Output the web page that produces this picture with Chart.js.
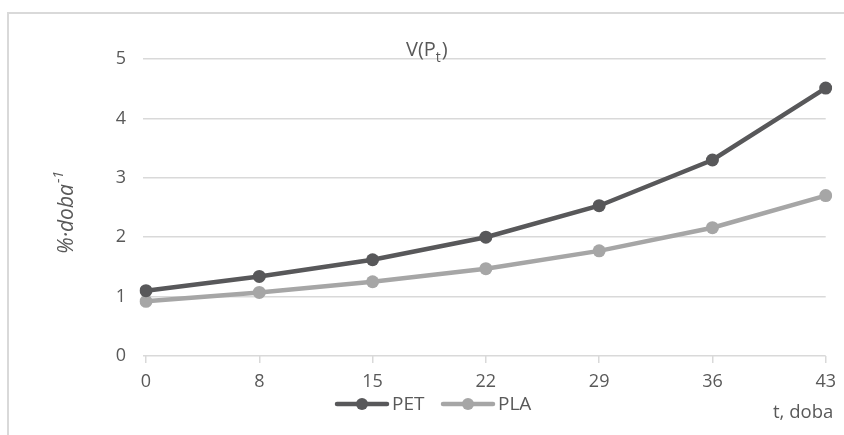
<!DOCTYPE html>
<html>
<head>
<meta charset="utf-8">
<script src="https://cdn.jsdelivr.net/npm/chart.js@4/dist/chart.umd.min.js"></script>
<style>
 body { margin:0; background:#fff; }
 #marco { position:absolute; left:0; top:0; width:844px; height:435px; }
 #borde { position:absolute; left:7px; top:12px; width:850px; height:440px; border:2px solid #d9d9d9; box-sizing:border-box; }
</style>
</head>
<body>
<div id="borde"></div>
<div id="marco"><canvas id="grafico" width="844" height="435"></canvas></div>
<script>
//Datos del grafico
const dias = ["0","8","15","22","29","36","43"];
const valoresPET = [1.10, 1.34, 1.62, 2.00, 2.53, 3.30, 4.51];
const valoresPLA = [0.92, 1.07, 1.25, 1.47, 1.77, 2.16, 2.70];
const nombresSeries = ["PET", "PLA"];
const coloresSeries = ["#58585a", "#a6a6a6"];
const fuente = "'Open Sans', Lato, sans-serif";

//Plugin que dibuja titulo, etiquetas de ejes y leyenda
const textosExtra = {
 id: 'textosExtra',
 afterDraw(chart) {
  const ctx = chart.ctx;
  ctx.save();
  ctx.fillStyle = "#595959";
  ctx.textBaseline = "alphabetic";
  //Titulo V(Pt)
  ctx.font = "20px " + fuente;
  ctx.textAlign = "left";
  let x = 406;
  ctx.fillText("V(P", x, 56);
  x += ctx.measureText("V(P").width;
  ctx.font = "14px " + fuente;
  ctx.fillText("t", x, 62);
  x += ctx.measureText("t").width + 1;
  ctx.font = "20px " + fuente;
  ctx.fillText(")", x, 56);
  //Etiqueta eje y
  ctx.save();
  ctx.translate(73, 213);
  ctx.rotate(-Math.PI / 2);
  const base = "%\u00b7doba";
  ctx.font = "italic 21px " + fuente;
  const w1 = ctx.measureText(base).width;
  ctx.font = "italic 14px " + fuente;
  const w2 = ctx.measureText("-1").width;
  let xi = -(w1 + w2) / 2;
  ctx.font = "italic 21px " + fuente;
  ctx.fillText(base, xi, 0);
  ctx.font = "italic 14px " + fuente;
  ctx.fillText("-1", xi + w1 + 1, -10);
  ctx.restore();
  //Etiqueta eje x
  ctx.font = "18.5px " + fuente;
  ctx.textAlign = "left";
  ctx.fillText("t, doba", 773, 418);
  //Leyenda
  const posiciones = [337, 443];
  for (let i = 0; i < nombresSeries.length; i++) {
   const x0 = posiciones[i];
   ctx.strokeStyle = coloresSeries[i];
   ctx.fillStyle = coloresSeries[i];
   ctx.lineWidth = 4.5;
   ctx.lineCap = "round";
   ctx.beginPath();
   ctx.moveTo(x0, 404);
   ctx.lineTo(x0 + 50, 404);
   ctx.stroke();
   ctx.beginPath();
   ctx.arc(x0 + 25, 404, 6, 0, Math.PI * 2);
   ctx.fill();
   ctx.fillStyle = "#595959";
   ctx.font = "19px " + fuente;
   ctx.textBaseline = "middle";
   ctx.fillText(nombresSeries[i], x0 + 55, 405);
  }
  ctx.restore();
 }
};

function crearSerie(nombre, valores, color) {
 return {
  label: nombre,
  data: valores,
  borderColor: color,
  backgroundColor: color,
  borderWidth: 4.5,
  pointRadius: 6.5,
  pointHoverRadius: 6.5,
  pointBorderWidth: 0,
  tension: 0
 };
}

const canvas = document.getElementById("grafico");
new Chart(canvas, {
 type: 'line',
 data: {
  labels: dias,
  datasets: [
   crearSerie(nombresSeries[0], valoresPET, coloresSeries[0]),
   crearSerie(nombresSeries[1], valoresPLA, coloresSeries[1])
  ]
 },
 options: {
  responsive: false,
  animation: false,
  layout: { padding: { left: 0, right: 18, top: 59, bottom: 0 } },
  plugins: { legend: { display: false }, tooltip: { enabled: false } },
  scales: {
   x: {
    offset: false,
    grid: { drawOnChartArea: false, color: "#d9d9d9", lineWidth: 1.5, tickLength: 7 },
    border: { display: false },
    ticks: { color: "#595959", font: { family: fuente, size: 18 }, padding: 8, maxRotation: 0 },
    afterFit(scale) { scale.height = 79; }
   },
   y: {
    min: 0, max: 5,
    ticks: { stepSize: 1, color: "#595959", font: { family: fuente, size: 18 }, padding: 17 },
    grid: { color: "#d9d9d9", lineWidth: 1.5, tickLength: 3 },
    border: { display: false },
    afterFit(scale) { scale.width = 146; }
   }
  }
 },
 plugins: [textosExtra]
});
</script>
</body>
</html>
